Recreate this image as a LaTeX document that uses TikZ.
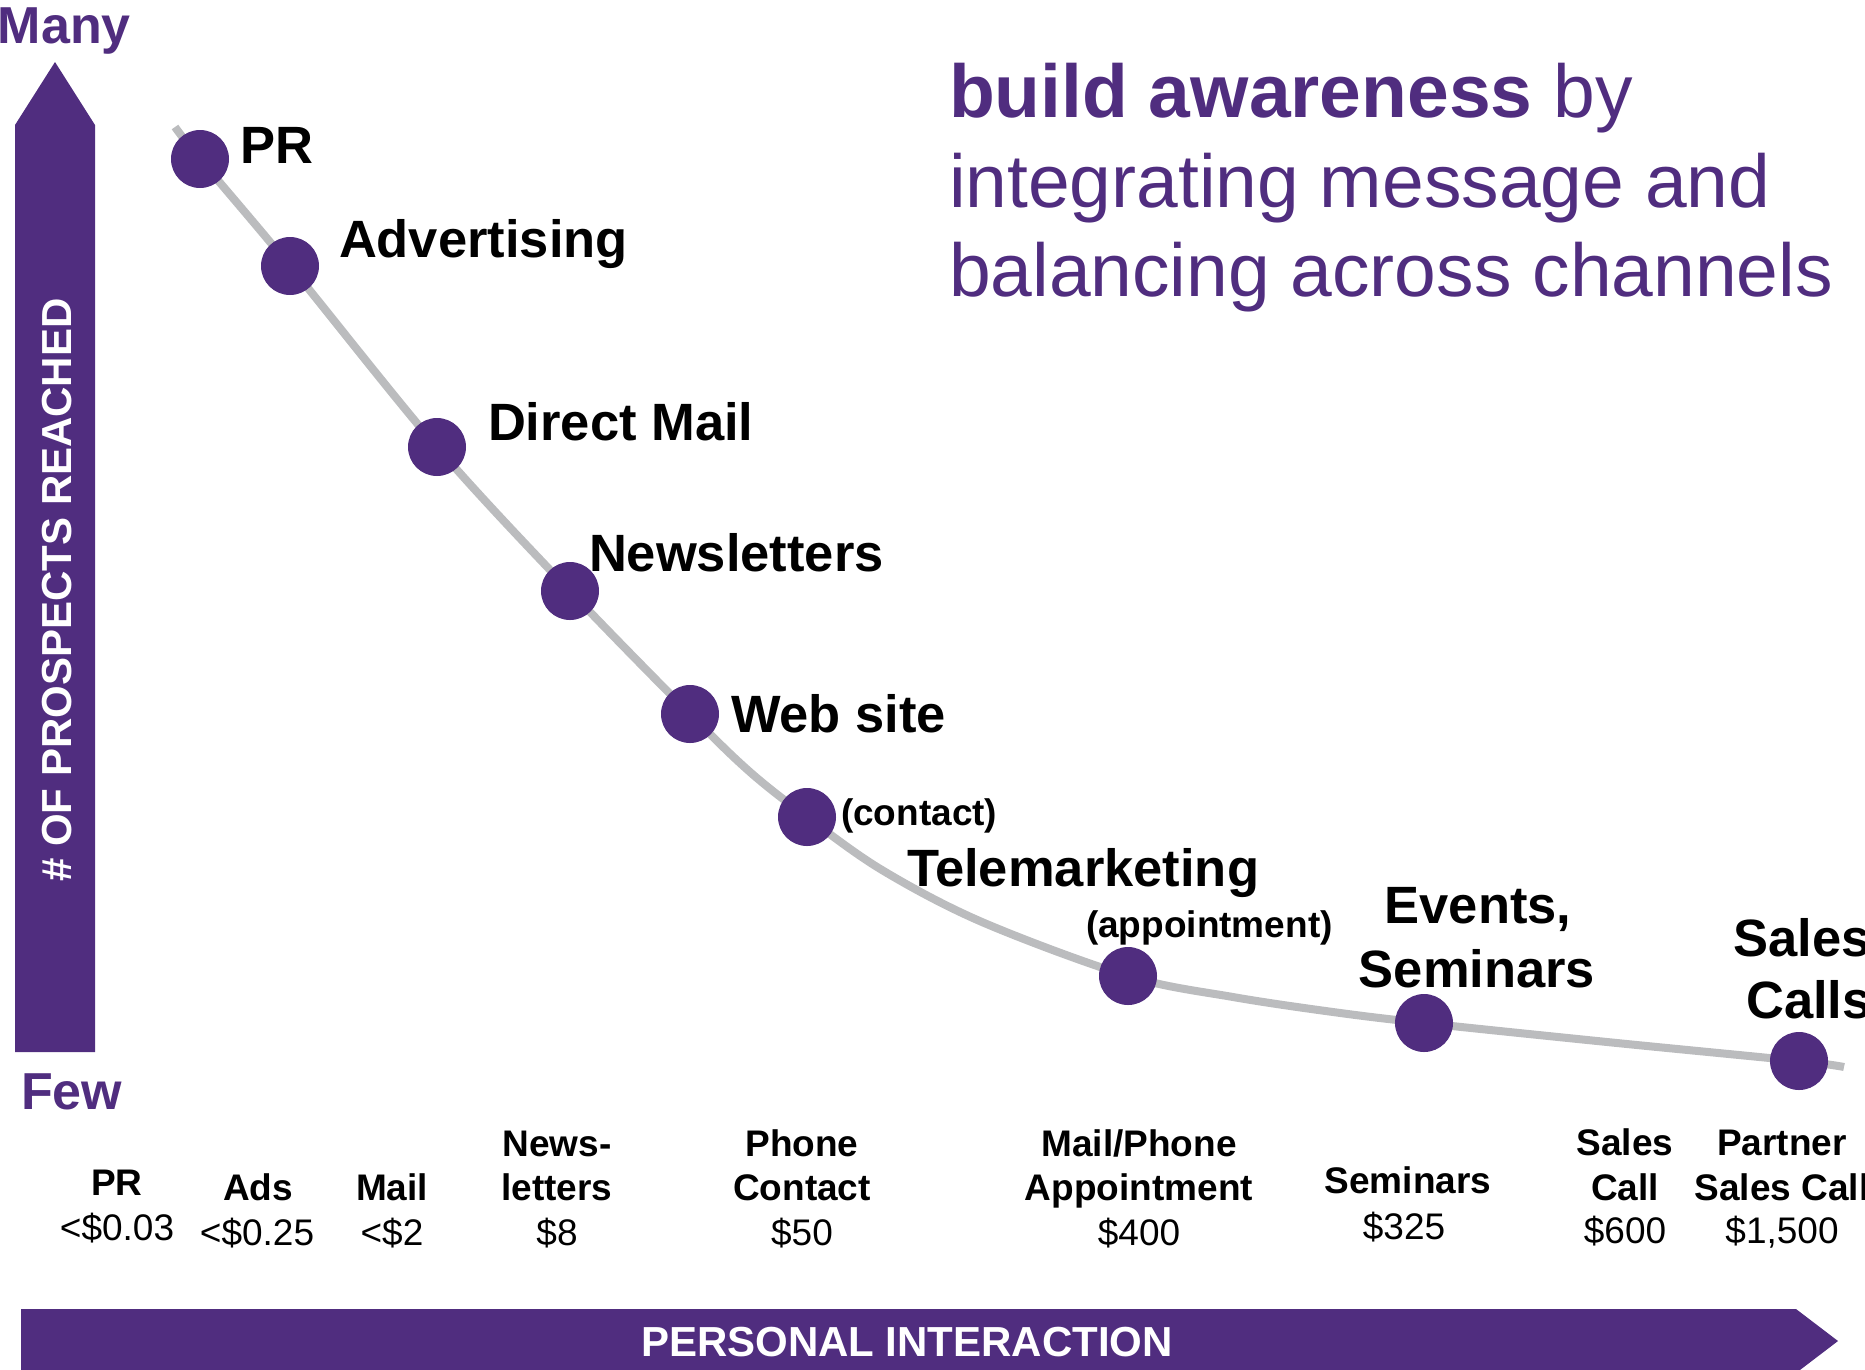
\documentclass[tikz,border=0pt]{standalone}
\usepackage{fontspec}
\setmainfont{Liberation Sans}
\definecolor{brandpurple}{RGB}{80,45,127}
\definecolor{curvegray}{RGB}{187,188,190}
\begin{document}
\begin{tikzpicture}[x=1pt,y=-1pt,
  txt/.style={inner sep=0pt, outer sep=0pt},
  lblbig/.style={txt, font=\fontsize{52.5}{62}\selectfont\bfseries, anchor=base west},
  lblsmall/.style={txt, font=\fontsize{37}{44}\selectfont\bfseries, anchor=base west},
  axlbl/.style={txt, font=\fontsize{37}{44}\selectfont\bfseries, anchor=base},
  costlbl/.style={txt, font=\fontsize{37}{44}\selectfont, anchor=base},
  endlbl/.style={txt, font=\fontsize{52}{62}\selectfont\bfseries, text=brandpurple, anchor=base west},
  titlelbl/.style={txt, font=\fontsize{75}{90}\selectfont, text=brandpurple, anchor=base west},
  axistext/.style={txt, font=\fontsize{42}{50}\selectfont\bfseries, text=white},
  dot/.style={circle, fill=brandpurple, minimum size=58pt, inner sep=0pt},
  arrowbody/.style={fill=brandpurple, draw=none},
  curveline/.style={draw=curvegray, line width=8pt}
]
\useasboundingbox (0,0) rectangle (1865,1369);

% axes arrows
\fill[arrowbody] (15,1052) -- (15,125) -- (55,62) -- (95,125) -- (95,1052) -- cycle;
\fill[arrowbody] (21,1309) -- (1796,1309) -- (1838,1341) -- (1796,1373) -- (21,1373) -- cycle;
\node[axistext, rotate=90, anchor=center] (yaxis) at (57,590) {\# OF PROSPECTS REACHED};
\node[axistext, anchor=base] (xaxis) at (907,1356) {PERSONAL INTERACTION};
\node[endlbl] (many) at (-2,43) {Many};
\node[endlbl] (few) at (21,1109) {Few};

% curve points
\coordinate (cstart) at (175,127);
\coordinate (cpr) at (200,159);
\coordinate (cadv) at (290,266);
\coordinate (cdm) at (437,447);
\coordinate (cnews) at (570,591);
\coordinate (cweb) at (690,714);
\coordinate (cw1) at (750,772);
\coordinate (ccont) at (807,817);
\coordinate (cc1) at (882,870);
\coordinate (cc2) at (982,922);
\coordinate (cappt) at (1128,976);
\coordinate (ca1) at (1233,997);
\coordinate (ca2) at (1333,1012);
\coordinate (csem) at (1424,1023);
\coordinate (cs1) at (1617,1043);
\coordinate (csales) at (1799,1061);
\coordinate (cend) at (1844,1067);

\draw[curveline] plot[smooth, tension=0.55] coordinates {(cstart) (cpr) (cadv) (cdm) (cnews) (cweb) (cw1) (ccont) (cc1) (cc2) (cappt) (ca1) (ca2) (csem) (cs1) (csales) (cend)};

\node[dot] (dpr) at (cpr) {};
\node[dot] (dadv) at (cadv) {};
\node[dot] (ddm) at (cdm) {};
\node[dot] (dnews) at (cnews) {};
\node[dot] (dweb) at (cweb) {};
\node[dot] (dcont) at (ccont) {};
\node[dot] (dappt) at (cappt) {};
\node[dot] (dsem) at (csem) {};
\node[dot] (dsales) at (csales) {};

% curve labels
\node[lblbig] (lpr) at (240,163) {PR};
\node[lblbig] (ladv) at (339,257) {Advertising};
\node[lblbig] (ldm) at (488,440) {Direct Mail};
\node[lblbig] (lnews) at (589,571) {Newsletters};
\node[lblbig] (lweb) at (731,732) {Web site};
\node[lblsmall] (lcont) at (841,825) {(contact)};
\node[lblbig] (ltele) at (907,886) {Telemarketing};
\node[lblsmall] (lappt) at (1086,937) {(appointment)};
\node[lblbig, anchor=base] (lev1) at (1478,923) {Events,};
\node[lblbig, anchor=base] (lev2) at (1477,987) {Seminars};
\node[lblbig, anchor=base] (lsc1) at (1802,956) {Sales};
\node[lblbig, anchor=base] (lsc2) at (1809,1018) {Calls};

% title
\node[titlelbl] (t1) at (949,117) {\textbf{build awareness} by};
\node[titlelbl] (t2) at (949,207) {integrating message and};
\node[titlelbl] (t3) at (949,296) {balancing across channels};

% bottom cost labels
\node[axlbl] (bpr) at (117,1195) {PR};
\node[costlbl] (vpr) at (117,1240) {<\$0.03};
\node[axlbl] (bads) at (258,1200) {Ads};
\node[costlbl] (vads) at (257,1245) {<\$0.25};
\node[axlbl] (bmail) at (392,1200) {Mail};
\node[costlbl] (vmail) at (392,1245) {<\$2};
\node[axlbl] (bnews1) at (557,1156) {News-};
\node[axlbl] (bnews2) at (557,1200) {letters};
\node[costlbl] (vnews) at (557,1245) {\$8};
\node[axlbl] (bph1) at (802,1156) {Phone};
\node[axlbl] (bph2) at (802,1200) {Contact};
\node[costlbl] (vph) at (802,1245) {\$50};
\node[axlbl] (bmp1) at (1139,1156) {Mail/Phone};
\node[axlbl] (bmp2) at (1139,1200) {Appointment};
\node[costlbl] (vmp) at (1139,1245) {\$400};
\node[axlbl] (bsem) at (1408,1193) {Seminars};
\node[costlbl] (vsem) at (1404,1239) {\$325};
\node[axlbl] (bsc1) at (1625,1155) {Sales};
\node[axlbl] (bsc2) at (1625,1200) {Call};
\node[costlbl] (vsc) at (1625,1243) {\$600};
\node[axlbl] (bpsc1) at (1782,1155) {Partner};
\node[axlbl] (bpsc2) at (1782,1200) {Sales Call};
\node[costlbl] (vpsc) at (1782,1243) {\$1,500};
\end{tikzpicture}
\end{document}
